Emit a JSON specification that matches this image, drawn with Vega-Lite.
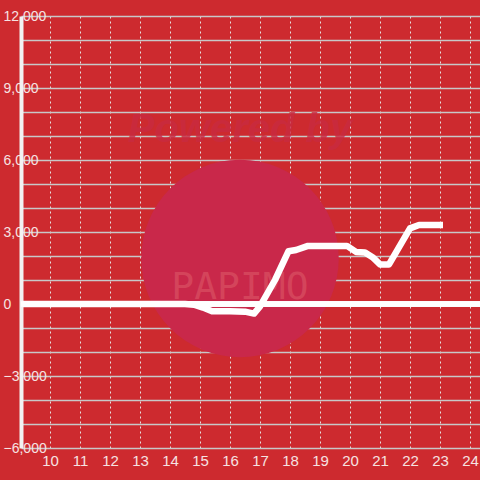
{
  "$schema": "https://vega.github.io/schema/vega-lite/v6.json",
  "width": 459,
  "height": 432,
  "autosize": {"type": "none"},
  "padding": {"left": 21, "top": 16, "right": 0, "bottom": 32},
  "background": "#CD2A2F",
  "config": {
    "view": {"stroke": null},
    "font": "Liberation Sans",
    "axis": {"labelFont": "Liberation Sans", "labelFontSize": 15, "labelColor": "#F6E2E2", "labelOverlap": false}
  },
  "datasets": {
    "series": [
      {"hour": 9.1, "value": 0},
      {"hour": 14.5, "value": 0},
      {"hour": 14.8, "value": -30},
      {"hour": 15.1, "value": -150},
      {"hour": 15.4, "value": -300},
      {"hour": 16.0, "value": -300},
      {"hour": 16.5, "value": -320},
      {"hour": 16.8, "value": -400},
      {"hour": 17.0, "value": -100},
      {"hour": 17.5, "value": 1000},
      {"hour": 17.95, "value": 2200},
      {"hour": 18.2, "value": 2250},
      {"hour": 18.6, "value": 2420},
      {"hour": 19.9, "value": 2420},
      {"hour": 20.2, "value": 2170},
      {"hour": 20.5, "value": 2150},
      {"hour": 20.75, "value": 1950},
      {"hour": 21.0, "value": 1650},
      {"hour": 21.3, "value": 1650},
      {"hour": 22.0, "value": 3150},
      {"hour": 22.3, "value": 3290},
      {"hour": 23.1, "value": 3290}
    ],
    "mark": [
      {"hour": 16.333, "value": 1900, "label": "PAPIMO", "labelValue": 650, "top": "Powered by", "topValue": 7250}
    ]
  },
  "layer": [
    {
      "data": {"name": "mark"},
      "mark": {"type": "point", "filled": true, "color": "#C9284A", "opacity": 1, "size": 39000, "shape": "circle"},
      "encoding": {
        "x": {"field": "hour", "type": "quantitative"},
        "y": {"field": "value", "type": "quantitative"}
      }
    },
    {
      "data": {"name": "mark"},
      "mark": {"type": "text", "fontSize": 38, "font": "DejaVu Sans Mono", "color": "#DE5C6A", "opacity": 0.55},
      "encoding": {
        "x": {"field": "hour", "type": "quantitative"},
        "y": {"field": "labelValue", "type": "quantitative"},
        "text": {"field": "label"}
      }
    },
    {
      "data": {"name": "mark"},
      "mark": {"type": "text", "fontSize": 40, "fontWeight": "bold", "fontStyle": "italic", "color": "#C92A40", "opacity": 0.8},
      "encoding": {
        "x": {"field": "hour", "type": "quantitative"},
        "y": {"field": "topValue", "type": "quantitative"},
        "text": {"field": "top"}
      }
    },
    {
      "data": {"name": "series"},
      "mark": {"type": "rule", "color": "white", "strokeWidth": 4.5},
      "encoding": {"y": {"datum": 0, "type": "quantitative"}}
    },
    {
      "data": {"name": "series"},
      "mark": {"type": "line", "color": "white", "strokeWidth": 6.5, "strokeCap": "butt", "strokeJoin": "round"},
      "encoding": {
        "x": {
          "field": "hour", "type": "quantitative",
          "scale": {"domain": [9.033, 24.333], "nice": false, "zero": false},
          "axis": {
            "title": null, "values": [10,11,12,13,14,15,16,17,18,19,20,21,22,23,24], "tickCount": 30, "format": "d",
            "grid": true, "gridColor": "#E6E0E0", "gridDash": [2, 3], "gridWidth": 1, "gridOpacity": 1,
            "domain": false, "ticks": false, "tickSize": 0, "labelPadding": 5,
            "labelFlush": false
          }
        },
        "y": {
          "field": "value", "type": "quantitative",
          "scale": {"domain": [-6000, 12000], "nice": false},
          "axis": {
            "title": null, "tickCount": 30,
            "values": [-6000,-5000,-4000,-3000,-2000,-1000,0,1000,2000,3000,4000,5000,6000,7000,8000,9000,10000,11000,12000],
            "labelExpr": "datum.value % 3000 === 0 ? format(datum.value, ',') : ''",
            "grid": true, "gridColor": "#C8C8C8", "gridWidth": 1.5, "gridOpacity": 1,
            "domain": true, "domainColor": "#F2F2F2", "domainWidth": 4,
            "ticks": false, "tickSize": 0, "labelPadding": 18, "labelAlign": "left", "labelFontSize": 14, "labelFlush": false
          }
        }
      }
    }
  ]
}
